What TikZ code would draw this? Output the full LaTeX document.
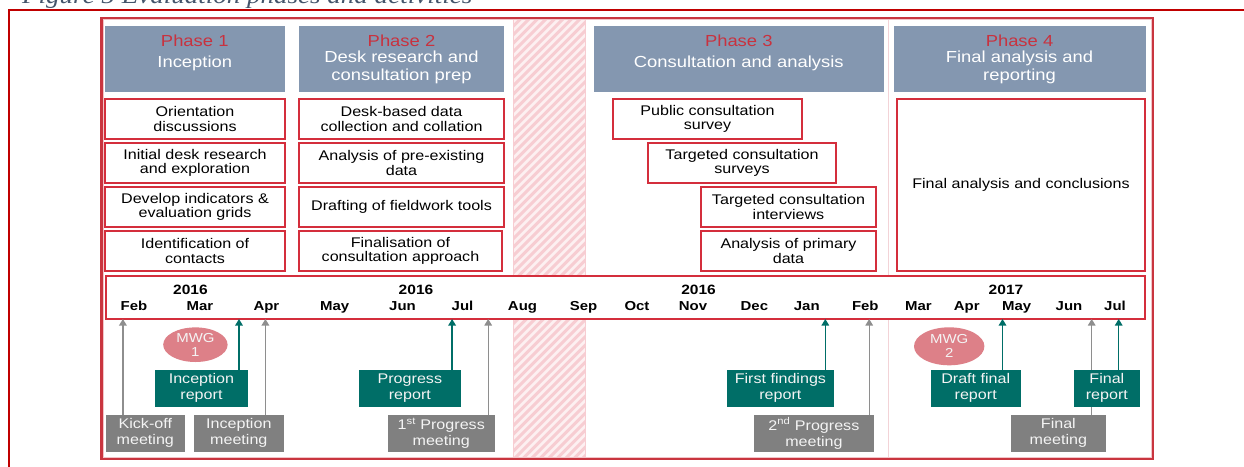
\documentclass[tikz,border=0pt]{standalone}
\usepackage{fontspec}
\setmainfont{Liberation Sans}[FakeStretch=1.15]
\newfontfamily\capfont{Liberation Serif}[FakeStretch=1.15]
\usetikzlibrary{arrows.meta,shapes.geometric}
\definecolor{hdrblue}{HTML}{8497B0}
\definecolor{phred}{HTML}{C8323F}
\definecolor{actred}{HTML}{D42E3C}
\definecolor{framered}{HTML}{C9353F}
\definecolor{framepink}{HTML}{F2C4C8}
\definecolor{outerred}{HTML}{C00000}
\definecolor{tealc}{HTML}{006E67}
\definecolor{boxgrey}{HTML}{808080}
\definecolor{arrgrey}{HTML}{8E8E8E}
\definecolor{mwgc}{HTML}{DD8088}
\definecolor{boxtext}{HTML}{F4F4F4}
\definecolor{hatchbg}{HTML}{FDF0F1}
\definecolor{stripec}{HTML}{F7CDD2}
\definecolor{vlinec}{HTML}{F3D3D7}
\definecolor{capc}{HTML}{44546A}
\newcommand\fsz[2]{\fontsize{#1}{#2}\selectfont}
\begin{document}
\begin{tikzpicture}[x=1pt,y=-1pt,
  hdr/.style={fill=hdrblue, inner sep=0, outer sep=0},
  phlbl/.style={text=phred, font=\fsz{16}{18}, align=center, inner sep=0},
  sublbl/.style={text=white, font=\fsz{16}{18}, align=center, inner sep=0},
  act/.style={draw=actred, line width=1.6pt, fill=white, align=center, inner sep=0, outer sep=0, font=\fsz{14}{14.7}, text=black},
  tealbox/.style={fill=tealc, text=boxtext, align=center, inner sep=0, outer sep=0, font=\fsz{14}{16}},
  greybox/.style={fill=boxgrey, text=boxtext, align=center, inner sep=0, outer sep=0, font=\fsz{14}{16}},
  mwg/.style={ellipse, fill=mwgc, text=boxtext, align=center, inner sep=0, font=\fsz{13}{14.3}},
  month/.style={anchor=base, inner sep=0, font=\fsz{13}{13}\bfseries},
  yearlbl/.style={anchor=base, inner sep=0, font=\fsz{13.5}{13.5}\bfseries},
  tarrow/.style={draw=tealc, line width=1.3pt, -{Triangle[width=7.5pt,length=6.5pt]}},
  garrow/.style={draw=arrgrey, line width=1.3pt, -{Triangle[width=7.5pt,length=6.5pt]}}]
\useasboundingbox (0,0) rectangle (1244,466);
\fill[white] (0,0) rectangle (1244,466);
\begin{scope}
\clip (0,0) rectangle (1244,466);
\node[anchor=base west, inner sep=0, text=capc, font=\capfont\itshape\fsz{23.5}{23.5}] (cap) at (22,3.2) {Figure 5 Evaluation phases and activities};
\draw[outerred, line width=2pt] (1250,10.3) -- (9.3,10.3) -- (9.3,470);
\end{scope}
% background: separator and hatched column
\draw[vlinec, line width=0.8pt] (888.5,19) -- (888.5,458);
\begin{scope}
\clip (513,19) rectangle (585,458);
\fill[hatchbg] (513,19) rectangle (585,458);
\foreach \k in {0,...,60} { \draw[stripec, line width=3pt] (73+\k*8.5,458) -- ++(440,-440); }
\end{scope}
\draw[stripec, line width=0.8pt] (513,19) -- (513,458) (585,19) -- (585,458);
% frame
\draw[framered, line width=2.2pt] (101.5,17.8) rectangle (1153.3,459.3);
\draw[framepink, line width=0.9pt] (103.5,19.8) rectangle (1151.3,457.3);
% phase headers
\node[hdr, minimum width=179.5pt, minimum height=65.5pt] (h1) at (194.75,58.75) {};
\node[hdr, minimum width=205pt, minimum height=65.5pt] (h2) at (401.5,58.75) {};
\node[hdr, minimum width=289.5pt, minimum height=65.5pt] (h3) at (738.75,58.75) {};
\node[hdr, minimum width=252pt, minimum height=65.5pt] (h4) at (1019.5,58.75) {};
\node[phlbl] (p1) at (194.75,40.7) {Phase 1};
\node[sublbl] (s1) at (194.75,63) {Inception};
\node[phlbl] (p2) at (401.5,40.7) {Phase 2};
\node[sublbl] (s2) at (401.5,67.7) {Desk research and\\consultation prep};
\node[phlbl] (p3) at (738.75,40.7) {Phase 3};
\node[sublbl] (s3) at (738.75,63.3) {Consultation and analysis};
\node[phlbl] (p4) at (1019.5,40.7) {Phase 4};
\node[sublbl] (s4) at (1019.5,67.5) {Final analysis and\\reporting};
% activities phase 1
\node[act, minimum width=180pt, minimum height=40pt] (a11) at (195,119) {Orientation\\discussions};
\node[act, minimum width=180pt, minimum height=40pt] (a12) at (195,163) {Initial desk research\\and exploration};
\node[act, minimum width=180pt, minimum height=40pt] (a13) at (195,207) {Develop indicators \&\\evaluation grids};
\node[act, minimum width=180pt, minimum height=40pt] (a14) at (195,251) {Identification of\\contacts};
% activities phase 2
\node[act, minimum width=205pt, minimum height=40pt] (a21) at (401.5,119) {Desk-based data\\collection and collation};
\node[act, minimum width=205pt, minimum height=40pt] (a22) at (401.5,163) {Analysis of pre-existing\\data};
\node[act, minimum width=205pt, minimum height=40pt] (a23) at (401.5,207) {Drafting of fieldwork tools};
\node[act, minimum width=203pt, minimum height=40pt] (a24) at (400.5,251) {Finalisation of\\consultation approach};
% activities phase 3
\node[act, minimum width=189pt, minimum height=40pt] (a31) at (707.5,119) {Public consultation\\survey};
\node[act, minimum width=188pt, minimum height=40pt] (a32) at (742,163) {Targeted consultation\\surveys};
\node[act, minimum width=175pt, minimum height=40pt] (a33) at (788.5,207) {Targeted consultation\\interviews};
\node[act, minimum width=175pt, minimum height=40pt] (a34) at (788.5,251) {Analysis of primary\\data};
% activity phase 4
\node[act, minimum width=248pt, minimum height=172pt] (a41) at (1021,185) {Final analysis and conclusions};
% timeline
\node[draw=actred, line width=1.6pt, fill=white, inner sep=0, outer sep=0, minimum width=1039pt, minimum height=43pt] (tl) at (625.5,297.5) {};
\node[yearlbl] (y1) at (190.4,294.5) {2016};
\node[yearlbl] (y2) at (416,294.5) {2016};
\node[yearlbl] (y3) at (698.6,294.5) {2016};
\node[yearlbl] (y4) at (1006,294.5) {2017};
\node[month] (m1) at (134,310.2) {Feb};
\node[month] (m2) at (200,310.2) {Mar};
\node[month] (m3) at (266.4,310.2) {Apr};
\node[month] (m4) at (334.6,310.2) {May};
\node[month] (m5) at (402.5,310.2) {Jun};
\node[month] (m6) at (462.5,310.2) {Jul};
\node[month] (m7) at (522.5,310.2) {Aug};
\node[month] (m8) at (583.6,310.2) {Sep};
\node[month] (m9) at (637,310.2) {Oct};
\node[month] (m10) at (693,310.2) {Nov};
\node[month] (m11) at (754.4,310.2) {Dec};
\node[month] (m12) at (806.8,310.2) {Jan};
\node[month] (m13) at (865.3,310.2) {Feb};
\node[month] (m14) at (918.5,310.2) {Mar};
\node[month] (m15) at (966.7,310.2) {Apr};
\node[month] (m16) at (1016.7,310.2) {May};
\node[month] (m17) at (1069,310.2) {Jun};
\node[month] (m18) at (1115,310.2) {Jul};
% MWG ellipses
\node[mwg, minimum width=64.4pt, minimum height=34.6pt] (mwg1) at (195.4,344.7) {MWG\\1};
\node[mwg, minimum width=70.4pt, minimum height=38pt] (mwg2) at (949.2,346.3) {MWG\\2};
% arrow x positions
\coordinate (xg1) at (122.9,0);
\coordinate (xt1) at (239,0);
\coordinate (xg2) at (265.4,0);
\coordinate (xt2) at (452.1,0);
\coordinate (xg3) at (488.2,0);
\coordinate (xt3) at (825.3,0);
\coordinate (xg4) at (869.2,0);
\coordinate (xt4) at (1002.5,0);
\coordinate (xg5) at (1091.7,0);
\coordinate (xt5) at (1118.7,0);
% meetings (grey)
\node[greybox, minimum width=78.6pt, minimum height=36.7pt] (kick) at (145.3,433.35) {Kick-off\\meeting};
\node[greybox, minimum width=89.6pt, minimum height=36.7pt] (imeet) at (238.8,433.35) {Inception\\meeting};
\node[greybox, minimum width=106.7pt, minimum height=36.7pt] (pm1) at (441.25,433.35) {1\textsuperscript{st} Progress\\meeting};
\node[greybox, minimum width=119.8pt, minimum height=36.7pt] (pm2) at (813.9,433.35) {2\textsuperscript{nd} Progress\\meeting};
\node[greybox, minimum width=94.7pt, minimum height=36.7pt] (fmeet) at (1058.35,433.35) {Final\\meeting};
\draw[garrow] (kick.north -| xg1) -- (tl.south -| xg1);
\draw[garrow] (imeet.north -| xg2) -- (tl.south -| xg2);
\draw[garrow] (pm1.north -| xg3) -- (tl.south -| xg3);
\draw[garrow] (pm2.north -| xg4) -- (tl.south -| xg4);
\draw[garrow] (fmeet.north -| xg5) -- (tl.south -| xg5);
% deliverables (teal)
\node[tealbox, minimum width=92.9pt, minimum height=36.7pt] (irep) at (201.45,388.35) {Inception\\report};
\node[tealbox, minimum width=101.7pt, minimum height=36.7pt] (prep) at (409.85,388.35) {Progress\\report};
\node[tealbox, minimum width=106.8pt, minimum height=36.7pt] (ffind) at (780.4,388.35) {First findings\\report};
\node[tealbox, minimum width=89.8pt, minimum height=36.7pt] (dfr) at (975.7,388.35) {Draft final\\report};
\node[tealbox, minimum width=65.7pt, minimum height=36.7pt] (frep) at (1106.85,388.35) {Final\\report};
\draw[tarrow] (irep.north -| xt1) -- (tl.south -| xt1);
\draw[tarrow] (prep.north -| xt2) -- (tl.south -| xt2);
\draw[tarrow] (ffind.north -| xt3) -- (tl.south -| xt3);
\draw[tarrow] (dfr.north -| xt4) -- (tl.south -| xt4);
\draw[tarrow] (frep.north -| xt5) -- (tl.south -| xt5);
\end{tikzpicture}
\end{document}
